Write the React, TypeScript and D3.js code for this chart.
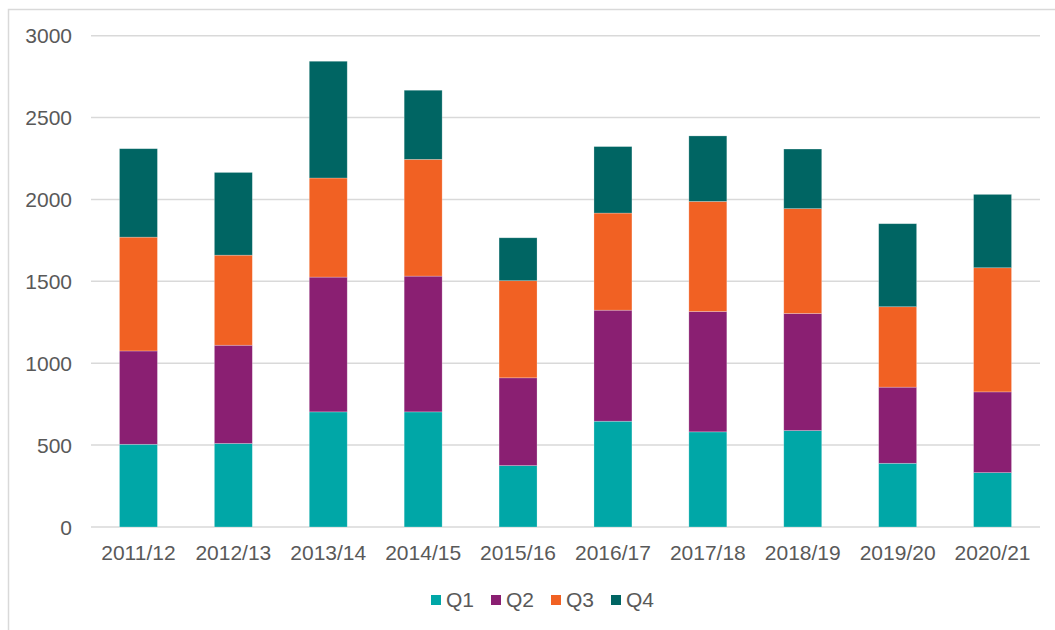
import React from "react";
import * as d3 from "d3";

const categories = ["2011/12", "2012/13", "2013/14", "2014/15", "2015/16", "2016/17", "2017/18", "2018/19", "2019/20", "2020/21"];
const seriesNames = ["Q1", "Q2", "Q3", "Q4"];
const q1 = [505, 510, 703, 703, 375, 646, 581, 589, 389, 332];
const q2 = [570, 600, 823, 829, 536, 678, 735, 715, 465, 493];
const q3 = [695, 550, 605, 713, 593, 593, 672, 640, 491, 758];
const q4 = [540, 505, 713, 422, 262, 406, 400, 364, 507, 448];
const yTicks = [0, 500, 1000, 1500, 2000, 2500, 3000];
const colors = ["#00A7A7", "#8A1F72", "#F16123", "#006563"];

const W = 1055;
const H = 630;
const FONT = "'Liberation Sans', Arial, sans-serif";

export default function App() {
  const x = d3.scaleBand<string>().domain(categories).range([91, 1040]).paddingInner(0.6).paddingOuter(0.3);
  const y = d3.scaleLinear().domain([0, 3000]).range([527, 35.7]);

  const rows = categories.map((c, i) => ({ cat: c, Q1: q1[i], Q2: q2[i], Q3: q3[i], Q4: q4[i] }));
  const stacked = d3.stack<any>().keys(seriesNames)(rows);

  const legendX = [431, 491, 551, 611];

  return (
    <svg width={W} height={H} style={{ position: "absolute", left: 0, top: 0, background: "#fff" }}>
      <rect x={0} y={0} width={W} height={H} fill="#fff" />
      <rect x={8.5} y={9.5} width={1200} height={800} fill="none" stroke="#d9d9d9" strokeWidth={1.5} />
      {yTicks.map((t) => (
        <g key={t}>
          <line x1={91} x2={1040} y1={y(t)} y2={y(t)} stroke="#d9d9d9" strokeWidth={1.5} />
          <text x={72} y={y(t)} dy="0.36em" textAnchor="end" fontFamily={FONT} fontSize={21} fill="#595959">
            {t}
          </text>
        </g>
      ))}
      {stacked.map((s, si) => (
        <g key={s.key} fill={colors[si]}>
          {s.map((d, i) => (
            <rect
              key={i}
              x={x(categories[i])}
              y={y(d[1])}
              width={x.bandwidth()}
              height={y(d[0]) - y(d[1])}
              stroke="#ffffff"
              strokeOpacity={0.35}
              strokeWidth={0.7}
            />
          ))}
        </g>
      ))}
      {categories.map((c) => (
        <text key={c} x={(x(c) as number) + x.bandwidth() / 2} y={560} textAnchor="middle" fontFamily={FONT} fontSize={21} fill="#595959">
          {c}
        </text>
      ))}
      {seriesNames.map((n, i) => (
        <g key={n}>
          <rect x={legendX[i]} y={595} width={10} height={10} fill={colors[i]} />
          <text x={legendX[i] + 15} y={607} fontFamily={FONT} fontSize={21} fill="#595959">
            {n}
          </text>
        </g>
      ))}
    </svg>
  );
}
